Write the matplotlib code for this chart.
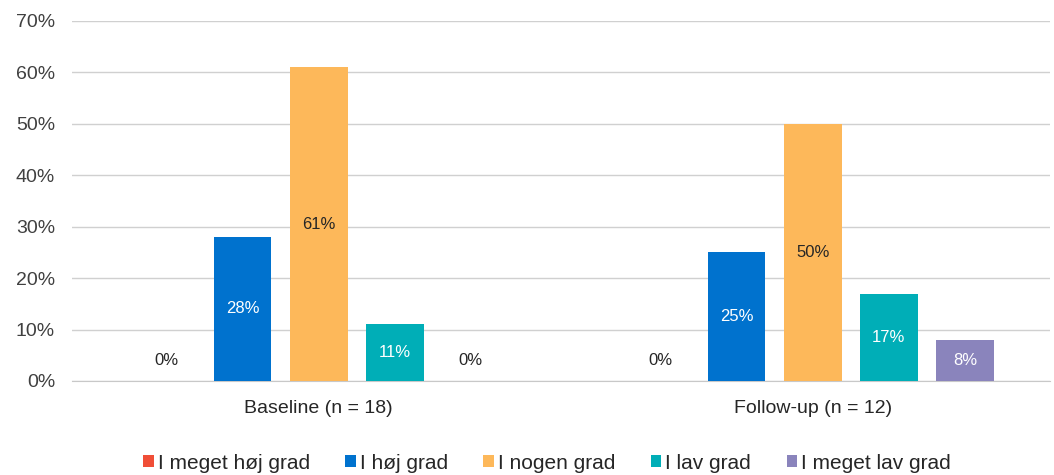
import numpy as np
import matplotlib.pyplot as plt

plt.rcParams['font.family'] = ['Liberation Sans', 'DejaVu Sans']

# data
grupper = ['Baseline (n = 18)', 'Follow-up (n = 12)']
kategorier = ['I meget høj grad', 'I høj grad', 'I nogen grad', 'I lav grad', 'I meget lav grad']
baseline = [0, 28, 61, 11, 0]
followup = [0, 25, 50, 17, 8]
farver = ['#F04E37', '#0072CE', '#FDB85A', '#00AEB7', '#8A84BC']
tekstfarver = ['#262626', 'white', '#262626', 'white', 'white']

vaerdier = np.array([baseline, followup])

fig = plt.figure(figsize=(10.54, 4.75), dpi=100)
ax = fig.add_axes([0.068, 0.198, 0.928, 0.758])

x = np.arange(len(grupper))
afstand = 0.154
bredde = 0.117

for i, kat in enumerate(kategorier):
    pos = x + (i - 2) * afstand
    v = vaerdier[:, i]
    ax.bar(pos, v, bredde, color=farver[i], label=kat, zorder=3)
    for p, val in zip(pos, v):
        if val == 0:
            ax.annotate('0%', (p, 0), xytext=(0, 15), textcoords='offset points',
                        ha='center', va='center', fontsize=12, color='#262626')
        else:
            ax.text(p, val / 2, f'{val}%', ha='center', va='center',
                    fontsize=12, color=tekstfarver[i], zorder=4)

ax.set_xlim(-0.5, 1.48)
ax.set_ylim(0, 70)
ax.set_yticks(range(0, 71, 10))
ax.set_yticklabels([f'{t}%' for t in range(0, 71, 10)], fontsize=14, color='#404040')
ax.set_xticks(x)
ax.set_xticklabels(grupper, fontsize=14, color='#262626')
ax.tick_params(axis='y', length=0, pad=12)
ax.tick_params(axis='x', length=0, pad=14)
ax.grid(axis='y', color='#D0D0D0', linewidth=1, zorder=0)
for s in ['top', 'right', 'left']:
    ax.spines[s].set_visible(False)
ax.spines['bottom'].set_color('#C8C8C8')

ax.legend(loc='center', bbox_to_anchor=(0.486, -0.228), ncol=5, frameon=False,
          fontsize=15, handlelength=0.5, handleheight=0.5, handletextpad=0.2,
          columnspacing=1.7, labelcolor='#262626')

fig.savefig('out.png', dpi=100)
